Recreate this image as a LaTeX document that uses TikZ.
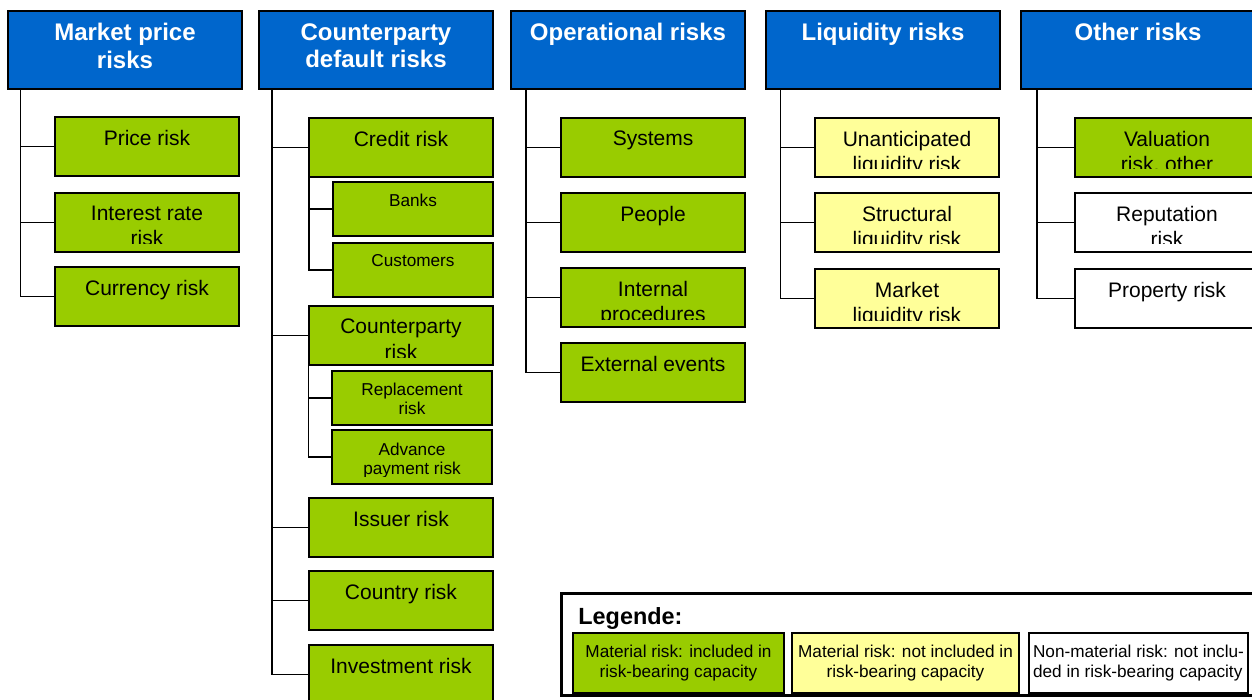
\documentclass[tikz,border=0pt]{standalone}
\usepackage{fontspec}
\setmainfont{Liberation Sans}
\usepackage{xcolor}
\usepackage{tikz}
\usetikzlibrary{positioning}
\definecolor{headblue}{HTML}{0066CC}
\definecolor{matgreen}{HTML}{99CC00}
\definecolor{matyellow}{HTML}{FFFF99}
\tikzset{
  head/.style={draw, line width=1pt, fill=headblue, anchor=north west, minimum width=117pt, minimum height=39pt},
  riskbox/.style={draw, line width=1pt, fill=matgreen, anchor=north west, minimum width=92pt, minimum height=29.5pt},
  subbox/.style={riskbox, minimum width=80pt, minimum height=27pt},
  open/.style={fill=matyellow},
  minor/.style={fill=white},
  headtext/.style={text=white, font=\fontsize{12}{13.7}\selectfont\bfseries, align=center},
  boxtext/.style={font=\fontsize{10.5}{12.8}\selectfont, align=center},
  subtext/.style={font=\fontsize{8.6}{9.4}\selectfont, align=center},
  keybox/.style={draw, line width=1pt, anchor=north west, minimum height=30pt, font=\fontsize{8.6}{10}\selectfont},
  branch/.style={line width=0.8pt},
  every node/.style={inner sep=0pt}
}
% label of a box, cut off above its lower edge
\newcommand{\boxlabel}[4][6.75pt]{%
  \begin{scope}
    \clip ([shift={(1,1)}]#2.north west) rectangle ([shift={(-1,-9)}]#2.south east);
    \node[anchor=north, #3] (#2-t) at ([yshift=-#1]#2.north) {#4};
  \end{scope}}

\begin{document}
\begin{tikzpicture}[x=0.5pt, y=-0.5pt]
    \useasboundingbox (0,0) rectangle (1252,700);
    \clip (0,0) rectangle (1252,700);

    % column heads
    \node[head] (mkt) at (7,10) {};
    \node[head] (cpd) at (258,10) {};
    \node[head] (ops) at (510,10) {};
    \node[head] (liq) at (765,10) {};
    \node[head] (oth) at (1020,10) {};
    \boxlabel[6.5pt]{mkt}{headtext}{Market price\\risks}
    \boxlabel[6.5pt]{cpd}{headtext}{Counterparty\\default risks}
    \boxlabel[6.5pt]{ops}{headtext}{Operational risks}
    \boxlabel[6.5pt]{liq}{headtext}{Liquidity risks}
    \boxlabel[6.5pt]{oth}{headtext}{Other risks}

    % market price risks
    \node[riskbox] (price) at (54,116) {};
    \node[riskbox] (rate) at (54,192) {};
    \node[riskbox] (curr) at (54,266) {};
    \boxlabel{price}{boxtext}{Price risk}
    \boxlabel{rate}{boxtext}{Interest rate\\risk}
    \boxlabel{curr}{boxtext}{Currency risk}

    % counterparty default risks
    \node[riskbox] (credit) at (308,117) {};
    \node[subbox] (banks) at (332,181) {};
    \node[subbox] (cust) at (332,242) {};
    \node[riskbox] (cparty) at (308,305) {};
    \node[subbox] (repl) at (331,370) {};
    \node[subbox] (adv) at (331,429) {};
    \node[riskbox] (issuer) at (308,497) {};
    \node[riskbox] (country) at (308,570) {};
    \node[riskbox] (invest) at (308,644) {};
    \boxlabel{credit}{boxtext}{Credit risk}
    \boxlabel[6.25pt]{banks}{subtext}{Banks}
    \boxlabel[6.25pt]{cust}{subtext}{Customers}
    \boxlabel{cparty}{boxtext}{Counterparty\\risk}
    \boxlabel[6.5pt]{repl}{subtext}{Replacement\\risk}
    \boxlabel[6.75pt]{adv}{subtext}{Advance\\payment risk}
    \boxlabel{issuer}{boxtext}{Issuer risk}
    \boxlabel{country}{boxtext}{Country risk}
    \boxlabel{invest}{boxtext}{Investment risk}

    % operational risks
    \node[riskbox] (sys) at (560,117) {};
    \node[riskbox] (people) at (560,192) {};
    \node[riskbox] (proc) at (560,267) {};
    \node[riskbox] (events) at (560,342) {};
    \boxlabel{sys}{boxtext}{Systems}
    \boxlabel{people}{boxtext}{People}
    \boxlabel{proc}{boxtext}{Internal\\procedures}
    \boxlabel{events}{boxtext}{External events}

    % liquidity risks
    \node[riskbox, open] (unant) at (814,117) {};
    \node[riskbox, open] (struct) at (814,192) {};
    \node[riskbox, open] (mliq) at (814,268) {};
    \boxlabel{unant}{boxtext}{Unanticipated\\liquidity risk}
    \boxlabel{struct}{boxtext}{Structural\\liquidity risk}
    \boxlabel{mliq}{boxtext}{Market\\liquidity risk}

    % other risks
    \node[riskbox] (valu) at (1074,117) {};
    \node[riskbox, minor] (reput) at (1074,192) {};
    \node[riskbox, minor] (prop) at (1074,268) {};
    \boxlabel{valu}{boxtext}{Valuation\\risk, other}
    \boxlabel{reput}{boxtext}{Reputation\\risk}
    \boxlabel{prop}{boxtext}{Property risk}

    % tree lines
    \foreach \c in {price,rate,curr}
      \draw[branch] ([xshift=6.75pt]mkt.south west) |- (\c.west);
    \foreach \c in {credit,cparty,issuer,country,invest}
      \draw[branch] ([xshift=7pt]cpd.south west) |- (\c.west);
    \foreach \c in {banks,cust}
      \draw[branch] ([xshift=0.5pt]credit.south west) |- (\c.west);
    \foreach \c in {repl,adv}
      \draw[branch] ([xshift=0.25pt]cparty.south west) |- (\c.west);
    \foreach \c in {sys,people,proc,events}
      \draw[branch] ([xshift=8pt]ops.south west) |- (\c.west);
    \foreach \c in {unant,struct,mliq}
      \draw[branch] ([xshift=7.75pt]liq.south west) |- (\c.west);
    \foreach \c in {valu,reput,prop}
      \draw[branch] ([xshift=8.5pt]oth.south west) |- (\c.west);

    % legend
    \node[draw, line width=1.5pt, anchor=north west, minimum width=346.25pt, minimum height=51pt] (legend) at (560,592) {};
    \node[anchor=base west, font=\fontsize{11.7}{13}\selectfont\bfseries] (legtitle) at (578,624) {Legende:};
    \node[keybox, fill=matgreen, minimum width=105.5pt, align=center] (keyin) at (572,632) {Material risk: included in\\risk-bearing capacity};
    \node[keybox, fill=matyellow, minimum width=113.5pt, align=center] (keyout) at (791,632) {Material risk: not included in\\risk-bearing capacity};
    \node[keybox, fill=white, minimum width=109.5pt, align=left] (keynon) at (1028,632) {Non-material risk: not inclu-\\ded in risk-bearing capacity};
\end{tikzpicture}
\end{document}
